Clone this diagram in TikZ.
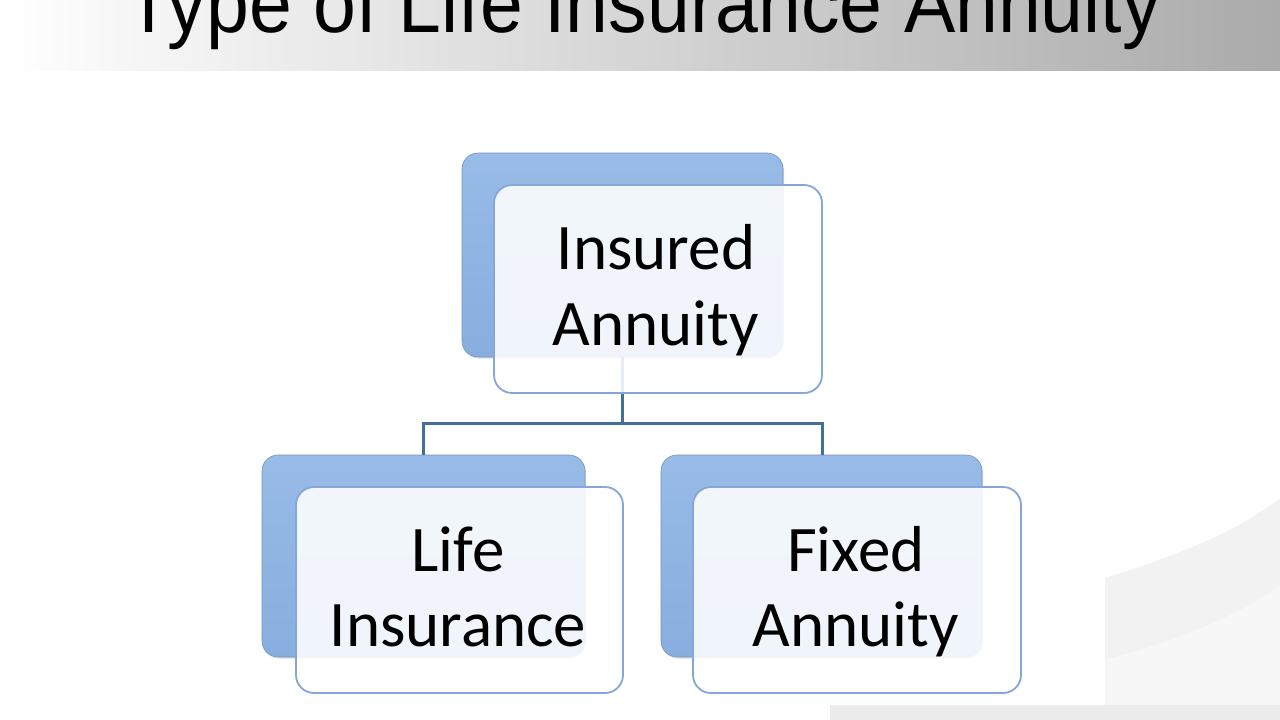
\documentclass[tikz,border=0pt]{standalone}
\usepackage{fontspec}
\setmainfont{Carlito}
\newfontfamily\titlefont{Liberation Sans}
\usetikzlibrary{shadows}
\definecolor{backblue}{HTML}{88AEDF}
\definecolor{backblueL}{HTML}{98BBE7}
\definecolor{frontborder}{HTML}{86A5D8}
\definecolor{connblue}{HTML}{41709C}
\tikzset{
  backbox/.style={rounded corners=16pt, top color=backblueL, bottom color=backblue, draw=backblue!85!black, line width=0.6pt,
    drop shadow={shadow xshift=1pt, shadow yshift=-1.5pt, opacity=0.25}},
  frontbox/.style={rounded corners=18pt, fill=white, fill opacity=0.88, draw=frontborder, line width=1.8pt},
  lbl/.style={font=\fontsize{65}{76}\selectfont, align=center, text=black, inner sep=0pt},
  conn/.style={draw=connblue, line width=3pt}
}
\begin{document}
\begin{tikzpicture}[x=1pt,y=-1pt]
\useasboundingbox (0,0) rectangle (1280,720);
\clip (0,0) rectangle (1280,720);
\fill[white] (0,0) rectangle (1280,720);
% title band
\shade[left color=white, right color=black!33] (0,0) rectangle (1280,70);
\node[anchor=base, inner sep=0pt, yscale=1.08, font=\titlefont\fontsize{77}{80}\selectfont] (title) at (643,32) {Type of Life Insurance Annuity};
% faint background photo fragments
\fill[black!5] (1105,578) .. controls (1180,555) and (1240,530) .. (1280,498) -- (1280,720) -- (1105,720) -- cycle;
\fill[black!3] (1105,660) .. controls (1180,640) and (1240,615) .. (1280,585) -- (1280,720) -- (1105,720) -- cycle;
\fill[black!8] (830,705) -- (1280,705) -- (1280,720) -- (830,720) -- cycle;
% back boxes
\path[backbox] (462,153) rectangle (783,357); \coordinate (topback) at (622.5,357);
\path[backbox] (262,455) rectangle (585,657);
\path[backbox] (661,455) rectangle (982,657);
\coordinate (lefttop) at (423,455);
\coordinate (righttop) at (822,455);
% connectors
\draw[conn] (topback) -- (622.5,423) -| (lefttop);
\draw[conn] (622.5,423) -| (righttop);
% front boxes
\path[frontbox] (494,185) rectangle (822,393);
\path[frontbox] (296,487) rectangle (623,693);
\path[frontbox] (693,487) rectangle (1021,693);
% labels
\node[lbl, anchor=base] (top1) at (656,269) {Insured};
\node[lbl, anchor=base] (top2) at (656,345) {Annuity};
\node[lbl, anchor=base] (l1) at (458,571) {Life};
\node[lbl, anchor=base] (l2) at (458,646) {Insurance};
\node[lbl, anchor=base] (r1) at (856,571) {Fixed};
\node[lbl, anchor=base] (r2) at (856,646) {Annuity};
\end{tikzpicture}
\end{document}
